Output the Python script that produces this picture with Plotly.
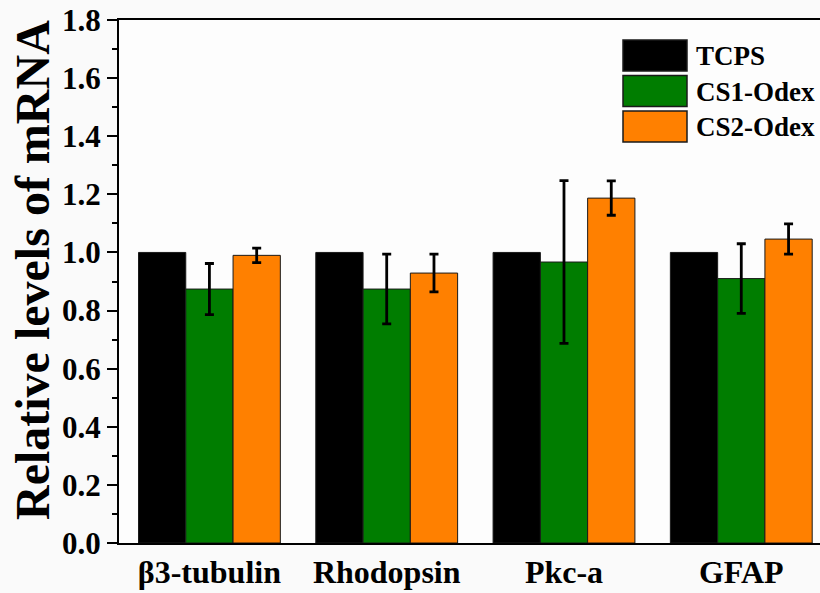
import plotly.graph_objects as go

categories = ["β3-tubulin", "Rhodopsin", "Pkc-a", "GFAP"]
series_names = ["TCPS", "CS1-Odex", "CS2-Odex"]
tcps = [1.0, 1.0, 1.0, 1.0]
cs1 = [0.874, 0.874, 0.967, 0.910]
cs1_err = [0.088, 0.12, 0.28, 0.12]
cs2 = [0.990, 0.929, 1.187, 1.046]
cs2_err = [0.025, 0.065, 0.059, 0.052]
y_ticks = [0.0, 0.2, 0.4, 0.6, 0.8, 1.0, 1.2, 1.4, 1.6, 1.8]

colors = ["#000000", "#007D00", "#FF8000"]
FONT = "Liberation Serif"

fig = go.Figure()
values = [tcps, cs1, cs2]
errors = [None, cs1_err, cs2_err]
for name, vals, err, col in zip(series_names, values, errors, colors):
    kw = {}
    if err is not None:
        kw["error_y"] = dict(type="data", array=err, visible=True,
                             color="black", thickness=2.8, width=4.5)
    fig.add_trace(go.Bar(
        x=categories, y=vals, name=name,
        marker=dict(color=col, line=dict(color="#1a1a1a", width=1)),
        showlegend=False, **kw))

# custom legend with large swatches
W, H = 820, 593
L, R, T, B = 119, 0, 20, 50
pw, ph = W - L - R, H - T - B
def px_x(p):
    return (p - L) / pw
def px_y(p):
    return (H - B - p) / ph

for i, (name, col) in enumerate(zip(series_names, colors)):
    top = 40 + i * 35.5
    fig.add_shape(type="rect", xref="paper", yref="paper",
                  x0=px_x(623), x1=px_x(687), y0=px_y(top + 31), y1=px_y(top),
                  fillcolor=col, line=dict(color="#1a1a1a", width=1.5))
    fig.add_annotation(xref="paper", yref="paper", x=px_x(694), y=px_y(top + 16),
                       text=name, showarrow=False, xanchor="left", yanchor="middle",
                       font=dict(family=FONT, size=27, color="black", weight="bold"))

fig.add_annotation(xref="paper", yref="paper", x=0, xshift=-87, y=px_y(270),
                   text="Relative levels of mRNA", textangle=-90, showarrow=False,
                   xanchor="center", yanchor="middle",
                   font=dict(family=FONT, size=48, color="black", weight="bold"))

fig.update_layout(
    width=W, height=H,
    margin=dict(l=L, r=R, t=T, b=B, pad=0),
    paper_bgcolor="#FAFAFA", plot_bgcolor="#FDFDFD",
    barmode="group", bargap=0.2, bargroupgap=0,
    font=dict(family=FONT, color="black"),
)
fig.update_xaxes(
    range=[-0.51, 3.444], showline=True, linecolor="black", linewidth=2,
    mirror=True, ticks="", showgrid=False, zeroline=False,
    tickfont=dict(family=FONT, size=32, color="black", weight="bold"),
)
fig.update_yaxes(
    range=[0, 1.8], tickvals=y_ticks, tickformat=".1f",
    showline=True, linecolor="black", linewidth=2, mirror=False,
    ticks="outside", ticklen=10, tickwidth=2, tickcolor="black",
    minor=dict(dtick=0.1, ticks="outside", ticklen=5, tickwidth=2, tickcolor="black", showgrid=False),
    showgrid=False, zeroline=False,
    tickfont=dict(family=FONT, size=31, color="black", weight="bold"),
)

fig.write_html(
    "out.html",
    config={"displayModeBar": False},
    post_script="document.body.style.margin='0';document.body.style.overflow='hidden';",
)
